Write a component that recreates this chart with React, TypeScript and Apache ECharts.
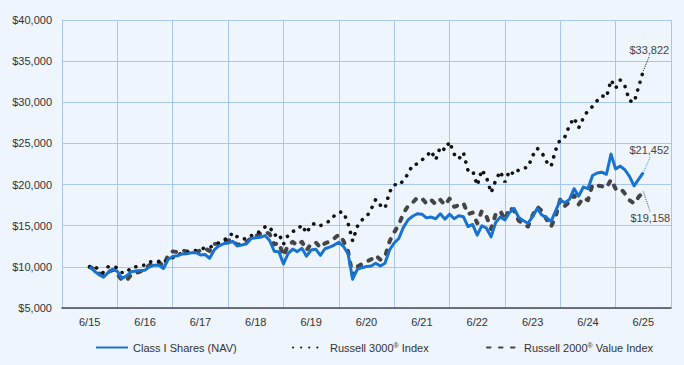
import React, { useEffect, useRef } from 'react';
import * as echarts from 'echarts';

const categories = ['6/15', '6/16', '6/17', '6/18', '6/19', '6/20', '6/21', '6/22', '6/23', '6/24', '6/25'];

// Monthly growth of $10,000, June 2015 .. June 2025 (121 points)
const classI = [
  10000, 9500, 9050, 8750, 9300, 9700, 9450, 8600, 8900, 9400, 9500, 9550,
  9600, 10000, 10200, 10200, 9800, 10900, 11250, 11350, 11550, 11600, 11700, 11750,
  11450, 11500, 11050, 12050, 12550, 12800, 12900, 13100, 12550, 12650, 12800, 13450,
  13550, 13600, 13800, 13200, 11900, 11850, 10350, 11600, 12150, 11850, 12250, 11300,
  12050, 12150, 11400, 12200, 12400, 12650, 13000, 12500, 11600, 8500, 9700, 9900,
  10050, 10100, 10430, 10100, 10430, 12050, 12900, 13450, 14800, 15700, 16150, 16450,
  16400, 15950, 16050, 15850, 16450, 15800, 16400, 15850, 16200, 16100, 14900, 15150,
  13850, 15000, 14700, 13650, 15400, 16050, 15700, 16600, 17100, 16000, 15600, 15300,
  16100, 17100, 16300, 16000, 15500, 16800, 18100, 17800, 18200, 19500, 18600, 19700,
  19500, 21100, 21400, 21500, 21250, 23700, 21900, 22250, 21800, 21000, 19850, 20650,
  21452,
];

const russell3000 = [
  10000, 10170, 9550, 9280, 10010, 10070, 9860, 9310, 9300, 9950, 10010, 10190,
  10210, 10620, 10650, 10670, 10440, 10910, 11120, 11330, 11750, 11760, 11890, 11990,
  12100, 12330, 12350, 12650, 12930, 13320, 13450, 14160, 13640, 13370, 13420, 13800,
  13900, 14400, 14850, 14900, 13800, 14050, 12750, 13850, 14300, 14500, 15100, 14100,
  15100, 15300, 15000, 15250, 15600, 16200, 16650, 16650, 15300, 13150, 14900, 15700,
  16050, 17000, 18200, 17500, 17100, 19100, 20000, 19900, 20500, 21300, 22400, 22500,
  23000, 23400, 24100, 23000, 24600, 24200, 25200, 23700, 23100, 23900, 21700, 21700,
  19900, 21800, 20900, 19000, 20500, 21600, 20300, 21700, 21200, 21800, 22000, 22100,
  23500, 24400, 23900, 22800, 22200, 24200, 25500, 25800, 27200, 28100, 26900, 28100,
  29000, 29500, 30200, 30800, 30600, 32700, 31700, 32700, 32000, 30200, 30000, 31900,
  33822,
];

const russell2000Value = [
  10000, 9720, 9230, 8900, 9380, 9600, 9100, 8400, 8350, 9050, 9270, 9420,
  9740, 10240, 10530, 10560, 10090, 11400, 11880, 11800, 12020, 11870, 11900, 11800,
  12000, 12240, 11940, 12790, 12810, 13240, 13210, 13260, 12640, 12850, 13030, 13500,
  13750, 14050, 14280, 13980, 12720, 12920, 11360, 12600, 13040, 12600, 13050, 12010,
  12800, 12980, 12330, 12860, 13070, 13450, 13920, 13170, 11890, 8950, 10040, 10330,
  10650, 10900, 11400, 10870, 11200, 13100, 14200, 15100, 16500, 17400, 17800, 18400,
  18330, 17700, 18150, 17600, 18150, 17500, 18300, 17300, 17500, 17750, 16400, 16600,
  15300, 16800, 16150, 14600, 16400, 16800, 15700, 17200, 16800, 15600, 15200, 14900,
  16250, 17300, 16800, 15800, 14900, 16100, 18200, 17400, 17900, 18700, 17600, 18400,
  18100, 20000, 19900, 19800, 19600, 20600, 19500, 19600, 18900, 18100, 17700, 18500,
  19158,
];

const seriesNames = ['Class I Shares (NAV)', 'Russell 3000® Index', 'Russell 2000® Value Index'];
const seriesColors = ['#1772d0', '#111111', '#454545'];
const leaderColors = ['#3b8ee0', '#222222', '#555555'];

const FONT = '"Liberation Sans", Arial, sans-serif';
const fmt = (v: number) => '$' + Math.round(v).toLocaleString('en-US');

export default function App() {
  const ref = useRef<HTMLDivElement>(null);

  useEffect(() => {
    document.body.style.margin = '0';
    const chart = echarts.init(ref.current!, null, { renderer: 'svg' });
    const toPts = (arr: number[]) => arr.map((v, i) => [i, v]);

    const endLabel = (arr: number[], idx: number, offset: number[], leaderEnd: number[]) => {
      const last = arr.length - 1;
      const v = arr[last];
      return {
        markPoint: {
          symbol: 'circle',
          symbolSize: 0,
          silent: true,
          label: {
            show: true,
            formatter: fmt(v),
            offset,
            color: '#444',
            fontSize: 11,
            fontFamily: FONT,
          },
          data: [{ coord: [last, v] }],
        },
        markLine: {
          symbol: ['none', 'none'],
          silent: true,
          label: { show: false },
          lineStyle: { type: 'dotted', width: 1, color: leaderColors[idx] },
          data: [[{ coord: [last, v] }, { coord: [last + leaderEnd[0], leaderEnd[1]] }]],
        },
      };
    };

    const legendBase = {
      bottom: 12,
      padding: 0,
      itemWidth: 32,
      itemHeight: 12,
      itemGap: 5,
      itemStyle: { opacity: 0, borderWidth: 0 },
      textStyle: {
        color: '#333',
        fontSize: 11,
        fontFamily: FONT,
        rich: { sup: { fontSize: 7, verticalAlign: 'top', color: '#333', fontFamily: FONT } },
      },
      formatter: (name: string) => name.replace('®', '{sup|®}'),
      selectedMode: false,
    };

    const option: any = {
      animation: false,
      backgroundColor: '#eef5fc',
      grid: { left: 62, right: 13, top: 20, bottom: 57 },
      legend: [
        { ...legendBase, left: 95, data: [seriesNames[0]] },
        { ...legendBase, left: 292, data: [seriesNames[1]] },
        { ...legendBase, left: 486, data: [seriesNames[2]] },
      ],
      xAxis: [
        {
          type: 'category',
          data: categories,
          boundaryGap: true,
          axisLine: { show: true, onZero: false, lineStyle: { color: '#4a4a4a', width: 1.5 } },
          axisTick: { show: false },
          axisLabel: { color: '#333', fontSize: 11, fontFamily: FONT, margin: 8, interval: 0 },
          splitLine: { show: true, interval: 0, lineStyle: { color: '#a9c6ee', width: 1 } },
        },
        {
          type: 'value',
          min: -6,
          max: 126,
          show: false,
          splitLine: { show: false },
          axisLine: { show: false, onZero: false },
          axisLabel: { show: false },
          axisTick: { show: false },
        },
      ],
      yAxis: {
        type: 'value',
        min: 5000,
        max: 40000,
        interval: 5000,
        axisLine: { show: true, onZero: false, lineStyle: { color: '#a9c6ee', width: 1 } },
        axisTick: { show: false },
        axisLabel: { color: '#333', fontSize: 11, fontFamily: FONT, margin: 10, formatter: fmt },
        splitLine: { show: true, lineStyle: { color: '#a9c6ee', width: 1 } },
      },
      series: [
        {
          name: seriesNames[2],
          type: 'line',
          xAxisIndex: 1,
          data: toPts(russell2000Value),
          symbol: 'none',
          showSymbol: false,
          z: 2,
          lineStyle: { color: seriesColors[2], width: 4, type: [3.5, 8.5], cap: 'round', join: 'round' },
          itemStyle: { color: seriesColors[2] },
          ...endLabel(russell2000Value, 2, [7, 27], [1.5, 16650]),
        },
        {
          name: seriesNames[1],
          type: 'line',
          xAxisIndex: 1,
          data: toPts(russell3000),
          symbol: 'none',
          showSymbol: false,
          z: 3,
          lineStyle: { color: seriesColors[1], width: 3.6, type: [0.1, 8], cap: 'round' },
          itemStyle: { color: seriesColors[1] },
          ...endLabel(russell3000, 1, [6, -21], [1.3, 35600]),
        },
        {
          name: seriesNames[0],
          type: 'line',
          xAxisIndex: 1,
          data: toPts(classI),
          symbol: 'none',
          showSymbol: false,
          z: 4,
          lineStyle: { color: seriesColors[0], width: 3, join: 'round' },
          itemStyle: { color: seriesColors[0] },
          ...endLabel(classI, 0, [6, -23], [1.5, 23350]),
        },
      ],
    };

    chart.setOption(option);
    return () => chart.dispose();
  }, []);

  return <div ref={ref} style={{ width: 684, height: 365 }} />;
}
